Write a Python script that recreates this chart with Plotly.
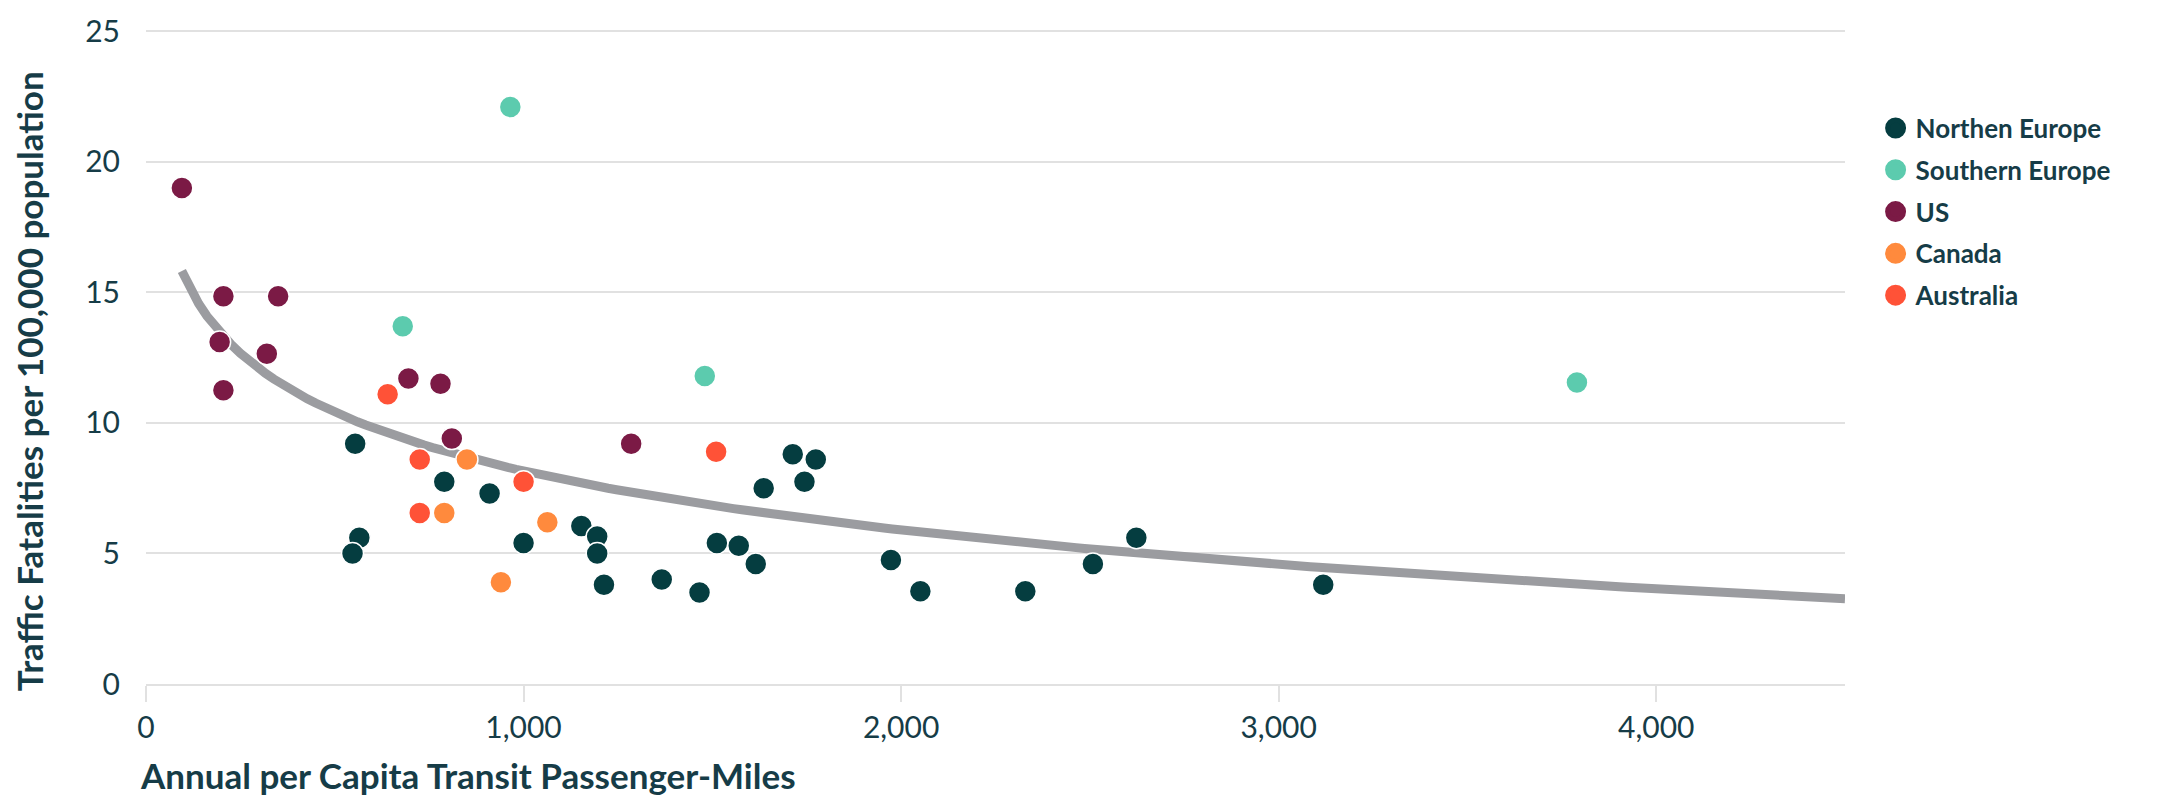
import numpy as np
import plotly.graph_objects as go

# ---- data ----
groups = ["Northen Europe", "Southern Europe", "US", "Canada", "Australia"]
colors = ["#053d40", "#5ccbae", "#7b1a45", "#ff8a3d", "#ff5237"]

ne_x = [554, 565, 547, 790, 910, 1000, 1153, 1195, 1195, 1213, 1366, 1466, 1512, 1570,
        1615, 1636, 1713, 1744, 1774, 1973, 2051, 2329, 2508, 2623, 3118]
ne_y = [9.2, 5.6, 5.0, 7.75, 7.3, 5.4, 6.05, 5.65, 5.0, 3.8, 4.0, 3.5, 5.4, 5.3,
        4.6, 7.5, 8.8, 7.75, 8.6, 4.75, 3.55, 3.55, 4.6, 5.6, 3.8]
se_x = [965, 680, 1480, 3790]
se_y = [22.1, 13.7, 11.8, 11.55]
us_x = [95, 205, 350, 195, 320, 205, 695, 780, 810, 1285]
us_y = [19.0, 14.85, 14.85, 13.1, 12.65, 11.25, 11.7, 11.5, 9.4, 9.2]
ca_x = [850, 790, 1063, 940]
ca_y = [8.6, 6.55, 6.2, 3.9]
au_x = [640, 725, 1000, 725, 1510]
au_y = [11.1, 8.6, 7.75, 6.55, 8.9]

series_x = [ne_x, se_x, us_x, ca_x, au_x]
series_y = [ne_y, se_y, us_y, ca_y, au_y]

x_ticks = [0, 1000, 2000, 3000, 4000]
x_ticktext = ["0", "1,000", "2,000", "3,000", "4,000"]
y_ticks = [0, 5, 10, 15, 20, 25]
x_max = 4500
x_title = "Annual per Capita Transit Passenger-Miles"
y_title = "Traffic Fatalities per 100,000 population"

# logarithmic trend fitted to all points
all_x = np.concatenate([np.array(v, float) for v in series_x])
all_y = np.concatenate([np.array(v, float) for v in series_y])
slope, intercept = np.polyfit(np.log(all_x), all_y, 1)
trend_x = np.linspace(all_x.min(), x_max, 200)
trend_y = intercept + slope * np.log(trend_x)

TXT = "#163c47"
GRID = "#e1e1e1"
FONT = "Lato"

fig = go.Figure()
fig.add_trace(go.Scatter(x=trend_x, y=trend_y, mode="lines",
                         line=dict(color="#9b9ca0", width=9),
                         showlegend=False, hoverinfo="skip"))
for name, c, xs, ys in zip(groups, colors, series_x, series_y):
    fig.add_trace(go.Scatter(x=xs, y=ys, mode="markers", name=name, legendgroup=name,
                             showlegend=False,
                             marker=dict(color=c, size=22, line=dict(color="white", width=1.5))))
# legend entries (larger legend symbols than plotly's 16px cap allows for data traces)
for name, c in zip(groups, colors):
    fig.add_trace(go.Scatter(x=[None], y=[None], mode="markers", name=name, legendgroup=name,
                             marker=dict(color=c, size=16, line=dict(color=c, width=5))))

fig.update_layout(
    width=2179, height=799,
    margin=dict(l=146, r=334, t=25, b=115),
    paper_bgcolor="white", plot_bgcolor="white",
    font=dict(family=FONT, color=TXT, size=28),
    legend=dict(x=1.018, y=0.886, xanchor="left", yanchor="top",
                font=dict(family=FONT, size=26, color=TXT, weight="bold"),
                tracegroupgap=5, itemsizing="trace"),
    annotations=[
        dict(text=x_title, xref="paper", yref="paper", x=0, y=0,
             xanchor="left", yanchor="middle", xshift=-8, yshift=-91, showarrow=False,
             font=dict(family=FONT, size=35, color=TXT, weight="bold")),
        dict(text=y_title, xref="paper", yref="paper", x=0, y=0.4628,
             xanchor="center", yanchor="middle", xshift=-117, showarrow=False, textangle=-90,
             font=dict(family=FONT, size=35, color=TXT, weight="bold")),
    ],
)
fig.update_xaxes(range=[0, x_max], tickvals=x_ticks, ticktext=x_ticktext,
                 showgrid=False, zeroline=False, showline=True, linecolor=GRID, linewidth=2,
                 ticks="outside", ticklen=16, tickwidth=2, tickcolor=GRID,
                 tickfont=dict(family=FONT, size=30, color=TXT))
fig.update_yaxes(range=[0, 25.05], tickvals=y_ticks,
                 showgrid=True, gridcolor=GRID, gridwidth=2, zeroline=False,
                 ticks="", ticklabelstandoff=25, ticklabeloverflow="allow",
                 tickfont=dict(family=FONT, size=30, color=TXT))

fig.write_html("out.html", config={"displayModeBar": False},
               post_script="document.body.style.margin='0';document.body.style.overflow='hidden';")
